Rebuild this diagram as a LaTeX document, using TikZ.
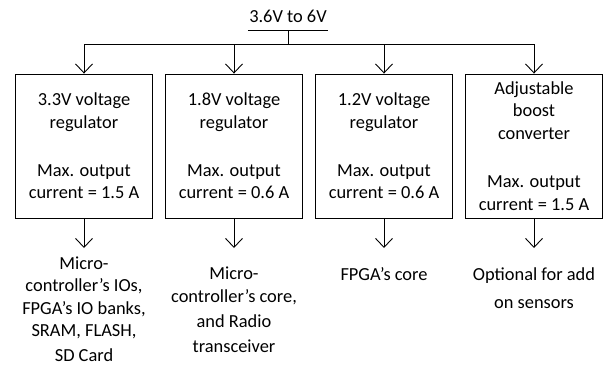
\documentclass[tikz,border=0pt]{standalone}
\usepackage{fontspec}
\setmainfont{Carlito}
\usepackage{xcolor}
\usepackage{tikz}
\usetikzlibrary{arrows.meta,positioning}

\begin{document}
\begin{tikzpicture}[
    x=1pt, y=1pt,
    font=\fontsize{18.4}{22.4}\selectfont,
    line width=0.9pt,
    box/.style={
        rectangle,
        draw,
        minimum width=137pt,
        minimum height=144pt,
        align=center,
        inner sep=0pt
    },
    load/.style={
        align=center,
        inner sep=0pt
    },
    arrow/.style={-{Straight Barb[length=9pt,width=17pt]}}
]

\useasboundingbox (0,0) rectangle (604,-372);

\node[anchor=base, inner xsep=1pt, inner ysep=8pt] (supply) at (288,-22) {3.6V to 6V};
\coordinate (bus) at (288,-44);

\node[box] (reg33) at (84,-146) {3.3V voltage\\regulator\\[26pt]Max. output\\current = 1.5 A};
\node[box] (reg18) at (234,-146) {1.8V voltage\\regulator\\[26pt]Max. output\\current = 0.6 A};
\node[box] (reg12) at (384,-146) {1.2V voltage\\regulator\\[26pt]Max. output\\current = 0.6 A};
\node[box] (boost) at (534,-146) {Adjustable\\boost\\converter\\[26pt]Max. output\\current = 1.5 A};

\coordinate (end33) at (84,-248);
\coordinate (end18) at (234,-248);
\coordinate (end12) at (384,-248);
\coordinate (endboost) at (534,-248);

\node[load] (load33) at (84,-309) {Micro-\\controller’s IOs,\\FPGA’s IO banks,\\SRAM, FLASH,\\[2pt]SD Card};
\node[load] (load18) at (234,-310) {Micro-\\controller’s core,\\[3pt]and Radio\\[3pt]transceiver};
\node[load] (load12) at (384,-274) {FPGA’s core};
\node[load] (loadboost) at (534,-288) {Optional for add\\[6pt]on sensors};

\draw (supply.south west) -- (supply.south east);
\draw (supply.south) -- (bus);
\draw[arrow] (bus) -| (reg33.north);
\draw[arrow] (bus) -| (reg18.north);
\draw[arrow] (bus) -| (reg12.north);
\draw[arrow] (bus) -| (boost.north);

\draw[arrow] (reg33.south) -- (end33);
\draw[arrow] (reg18.south) -- (end18);
\draw[arrow] (reg12.south) -- (end12);
\draw[arrow] (boost.south) -- (endboost);

\end{tikzpicture}
\end{document}
